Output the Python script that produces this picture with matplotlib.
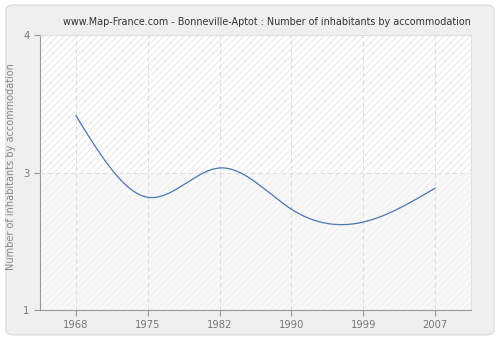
import numpy as np
import matplotlib
matplotlib.use("Agg")
import matplotlib.pyplot as plt
from matplotlib.patches import FancyBboxPatch, Rectangle

years = ["1968", "1975", "1982", "1990", "1999", "2007"]
values = [3.12, 2.23, 2.55, 2.10, 1.96, 2.33]
ytick_pos = [1, 2.5, 4]
ytick_labels = ["1", "3", "4"]


def natural_spline(x, y, n=300):
    # plain natural cubic spline, numpy only
    x = np.asarray(x, float)
    y = np.asarray(y, float)
    k = len(x)
    h = np.diff(x)
    A = np.zeros((k, k))
    b = np.zeros(k)
    A[0, 0] = A[-1, -1] = 1
    for i in range(1, k - 1):
        A[i, i - 1] = h[i - 1]
        A[i, i] = 2 * (h[i - 1] + h[i])
        A[i, i + 1] = h[i]
        b[i] = 3 * ((y[i + 1] - y[i]) / h[i] - (y[i] - y[i - 1]) / h[i - 1])
    c = np.linalg.solve(A, b)
    xs = np.linspace(x[0], x[-1], n)
    ys = np.empty_like(xs)
    for j, xv in enumerate(xs):
        i = min(np.searchsorted(x, xv, side="right") - 1, k - 2)
        d = (c[i + 1] - c[i]) / (3 * h[i])
        bb = (y[i + 1] - y[i]) / h[i] - h[i] * (2 * c[i] + c[i + 1]) / 3
        t = xv - x[i]
        ys[j] = y[i] + bb * t + c[i] * t ** 2 + d * t ** 3
    return xs, ys


fig = plt.figure(figsize=(5, 3.4), dpi=100)
fig.patch.set_facecolor("white")
fig.patches.append(FancyBboxPatch((0.012, 0.015), 0.976, 0.97,
                                  boxstyle="round,pad=0,rounding_size=0.015",
                                  transform=fig.transFigure, facecolor="#efefef",
                                  edgecolor="#dddddd", linewidth=1, zorder=-5))

ax = fig.add_axes([0.08, 0.088, 0.862, 0.809])
ax.set_facecolor("white")
ax.set_xlim(-0.5, len(years) - 0.5)
ax.set_ylim(1, 4)

plt.rcParams["hatch.linewidth"] = 0.6
ax.add_patch(Rectangle((-0.5, 2.5), len(years), 1.5, facecolor="white",
                       edgecolor="#e4e4e4", hatch="/////", linewidth=0, zorder=0))
ax.add_patch(Rectangle((-0.5, 1), len(years), 1.5, facecolor="#f8f8f8",
                       edgecolor="#eeeeee", hatch="/////", linewidth=0, zorder=0))

xs, ys = natural_spline(range(len(years)), values)
ax.plot(xs, ys, color="#4a77b0", linewidth=0.9, zorder=3)

ax.set_xticks(range(len(years)))
ax.set_xticklabels(years)
ax.set_yticks(ytick_pos)
ax.set_yticklabels(ytick_labels)
ax.grid(True, color="#dddddd", linestyle=(0, (4, 3)), linewidth=0.8)
ax.set_axisbelow(False)
for g in ax.get_xgridlines() + ax.get_ygridlines():
    g.set_zorder(1)

for s in ["left", "bottom"]:
    ax.spines[s].set_color("#999999")
for s in ["top", "right"]:
    ax.spines[s].set_color("#e0e0e0")
ax.tick_params(colors="#999999", labelcolor="#777777", labelsize=7.2, length=4, width=0.8)

ax.set_ylabel("Number of inhabitants by accommodation", color="#888888", fontsize=7)
ax.yaxis.set_label_coords(-0.055, 0.52)
fig.text(0.533, 0.935, "www.Map-France.com - Bonneville-Aptot : Number of inhabitants by accommodation",
         ha="center", va="center", fontsize=6.9, color="#333333")

fig.savefig("out.png", dpi=100, facecolor=fig.get_facecolor())
